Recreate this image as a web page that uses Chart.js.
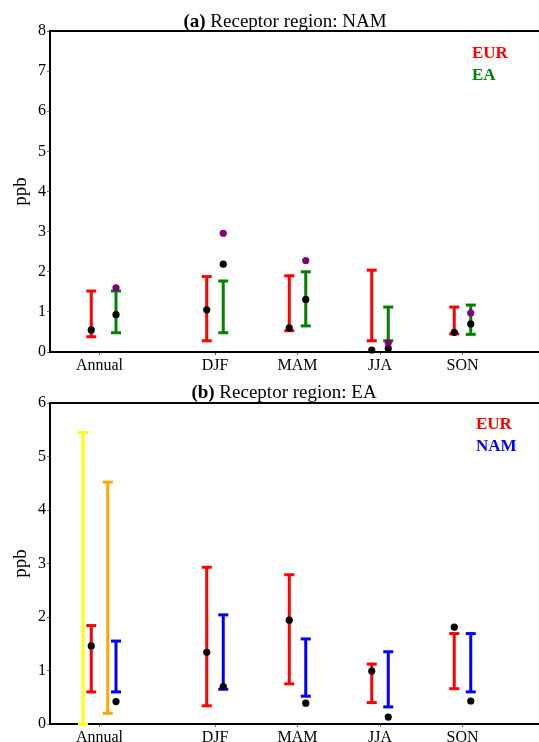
<!DOCTYPE html>
<html>
<head>
<meta charset="utf-8">
<script src="https://cdn.jsdelivr.net/npm/chart.js@4.4.1/dist/chart.umd.min.js"></script>
<style>
  html, body { margin: 0; padding: 0; background: #fff; overflow: hidden; }
  body { width: 539px; height: 742px; position: relative; }
  canvas { position: absolute; left: 0; }
  #panelA { top: 0; }
  #panelB { top: 370px; }
</style>
</head>
<body>
<canvas id="panelA" width="560" height="380"></canvas>
<canvas id="panelB" width="560" height="390"></canvas>
<script>
// categories and where they sit on the numeric x axis
var categories = ['Annual', 'DJF', 'MAM', 'JJA', 'SON'];
var tickPos = [0.6, 2, 3, 4, 5];
var xLeft = [0.5, 1.9, 2.9, 3.9, 4.9];
var xRight = [0.8, 2.1, 3.1, 4.1, 5.1];

// (a) receptor NAM
var namEurLow = [0.38, 0.28, 0.53, 0.28, 0.45];
var namEurHigh = [1.52, 1.88, 1.90, 2.04, 1.12];
var namEurDot = [0.55, 1.05, 0.60, 0.05, 0.49];
var namEaLow = [0.48, 0.48, 0.65, 0.28, 0.44];
var namEaHigh = [1.52, 1.77, 2.00, 1.12, 1.17];
var namEaDot = [0.93, 2.19, 1.31, 0.09, 0.70];
var namEaPurple = [1.60, 2.96, 2.28, 0.23, 0.97];
var yTicksA = [0, 1, 2, 3, 4, 5, 6, 7, 8];

// (b) receptor EA
var eaEurLow = [0.60, 0.34, 0.75, 0.40, 0.66];
var eaEurHigh = [1.84, 2.93, 2.79, 1.12, 1.69];
var eaEurDot = [1.46, 1.34, 1.94, 0.99, 1.81];
var eaNamLow = [0.60, 0.65, 0.52, 0.32, 0.60];
var eaNamHigh = [1.55, 2.04, 1.59, 1.35, 1.69];
var eaNamDot = [0.42, 0.70, 0.39, 0.13, 0.43];
var annualExtraX = [0.4, 0.7];
var yellowRange = [0, 5.45];
var orangeRange = [0.20, 4.52];
var yTicksB = [0, 1, 2, 3, 4, 5, 6];

var SERIF = "'Liberation Serif', 'Times New Roman', serif";

function rangeData(xs, lo, hi) {
    var out = [];
    for (var i = 0; i < xs.length; i++) {
        out.push({ x: xs[i], y: lo[i] });
        out.push({ x: xs[i], y: hi[i] });
        out.push({ x: xs[i], y: null });
    }
    return out;
}

function dotData(xs, ys) {
    return xs.map(function (x, i) { return { x: x, y: ys[i] }; });
}

function rangeSet(data, color) {
    return {
        data: data,
        showLine: true,
        spanGaps: false,
        borderColor: color,
        borderWidth: 3,
        pointStyle: 'line',
        pointRadius: 5,
        pointBorderWidth: 3,
        pointBorderColor: color,
        clip: false
    };
}

function dotSet(data, color) {
    return {
        data: data,
        pointRadius: 3.6,
        backgroundColor: color,
        borderWidth: 0,
        clip: false
    };
}

// frame, title and coloured legend words
var decor = {
    id: 'decor',
    beforeDatasetsDraw: function (chart) {
        var a = chart.chartArea, c = chart.ctx;
        c.save();
        c.strokeStyle = '#000';
        c.lineWidth = 2;
        c.beginPath();
        c.moveTo(a.left - 1, a.top);
        c.lineTo(a.right, a.top);
        c.lineTo(a.right, a.bottom);
        c.stroke();
        c.restore();
    },
    afterDraw: function (chart, args, o) {
        var c = chart.ctx;
        c.save();
        c.fillStyle = '#000';
        c.textBaseline = 'alphabetic';
        c.font = 'bold 19px ' + SERIF;
        var w1 = c.measureText(o.tag).width;
        c.font = '19px ' + SERIF;
        var w2 = c.measureText(' ' + o.title).width;
        var x0 = o.titleX - (w1 + w2) / 2;
        c.font = 'bold 19px ' + SERIF;
        c.fillText(o.tag, x0, o.titleY);
        c.font = '19px ' + SERIF;
        c.fillText(' ' + o.title, x0 + w1, o.titleY);
        c.font = 'bold 17px ' + SERIF;
        o.legend.forEach(function (l, i) {
            c.fillStyle = l.color;
            c.fillText(l.text, o.legendX, o.legendY[i]);
        });
        c.restore();
    }
};

function makeChart(id, datasets, yMax, yTicks, top, bottom, opts) {
    var canvas = document.getElementById(id);
    var H = canvas.height;
    return new Chart(canvas, {
        type: 'scatter',
        data: { datasets: datasets },
        plugins: [decor],
        options: {
            responsive: false,
            animation: false,
            events: [],
            layout: { padding: { top: top, right: canvas.width - 545, left: 0, bottom: 0 } },
            plugins: {
                legend: { display: false },
                tooltip: { enabled: false },
                decor: opts
            },
            scales: {
                x: {
                    type: 'linear',
                    min: 0, max: 6,
                    afterFit: function (s) { s.height = H - bottom; },
                    afterBuildTicks: function (s) {
                        s.ticks = tickPos.map(function (v) { return { value: v }; });
                    },
                    grid: { drawOnChartArea: false, drawTicks: true, tickLength: 3, color: '#666' },
                    border: { display: true, color: '#000', width: 2 },
                    ticks: {
                        autoSkip: false, maxRotation: 0, padding: 1,
                        color: '#000',
                        font: { family: SERIF, size: 16 },
                        callback: function (v, i) { return categories[i]; }
                    }
                },
                y: {
                    min: 0, max: yMax,
                    afterFit: function (s) { s.width = 50; },
                    afterBuildTicks: function (s) {
                        s.ticks = yTicks.map(function (v) { return { value: v }; });
                    },
                    grid: { drawOnChartArea: false, drawTicks: true, tickLength: 3, color: '#666' },
                    border: { display: true, color: '#000', width: 2 },
                    title: {
                        display: true, text: 'ppb', color: '#000',
                        font: { family: SERIF, size: 19 },
                        padding: { top: 10, bottom: 0 }
                    },
                    ticks: {
                        padding: 1, color: '#000',
                        font: { family: SERIF, size: 16 }
                    }
                }
            }
        }
    });
}

makeChart('panelA', [
    dotSet(dotData(xRight, namEaPurple), '#800080'),
    dotSet(dotData(xLeft, namEurDot), '#000'),
    dotSet(dotData(xRight, namEaDot), '#000'),
    rangeSet(rangeData(xLeft, namEurLow, namEurHigh), '#ff0000'),
    rangeSet(rangeData(xRight, namEaLow, namEaHigh), '#008000')
], 8, yTicksA, 31, 352, {
    tag: '(a)', title: 'Receptor region: NAM', titleX: 285, titleY: 27,
    legendX: 472, legendY: [58, 80],
    legend: [{ text: 'EUR', color: '#ff0000' }, { text: 'EA', color: '#008000' }]
});

makeChart('panelB', [
    dotSet(dotData(xLeft, eaEurDot), '#000'),
    dotSet(dotData(xRight, eaNamDot), '#000'),
    rangeSet(rangeData(xLeft, eaEurLow, eaEurHigh), '#ff0000'),
    rangeSet(rangeData(xRight, eaNamLow, eaNamHigh), '#0000ff'),
    rangeSet(rangeData([annualExtraX[0]], [yellowRange[0]], [yellowRange[1]]), '#ffff00'),
    rangeSet(rangeData([annualExtraX[1]], [orangeRange[0]], [orangeRange[1]]), '#ffa500')
], 6, yTicksB, 33, 354, {
    tag: '(b)', title: 'Receptor region: EA', titleX: 284, titleY: 28,
    legendX: 476, legendY: [59, 81],
    legend: [{ text: 'EUR', color: '#ff0000' }, { text: 'NAM', color: '#0000ff' }]
});
</script>
</body>
</html>
